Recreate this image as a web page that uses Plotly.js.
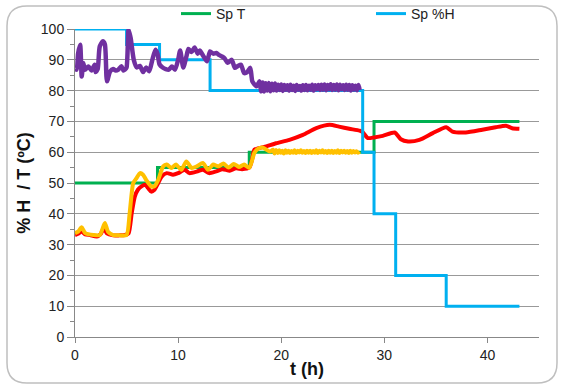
<!DOCTYPE html>
<html>
<head>
<meta charset="utf-8">
<script src="https://cdn.plot.ly/plotly-3.0.1.min.js"></script>
<style>html,body{margin:0;padding:0;background:#fff;}#chart{width:561px;height:385px;}</style>
</head>
<body>
<div id="chart"></div>
<script>
// Setpoints (step lines)
const spT_t = [0, 8.0, 16.9, 29.0, 43.1];
const spT_v = [50, 55, 60, 70, 70];
const spH_t = [0, 5.0, 8.2, 13.1, 27.9, 29.0, 31.1, 36.0, 43.1];
const spH_v = [100, 95, 90, 80, 60, 40, 20, 10, 10];

// Measured humidity (purple)
const hum_t = [0,0.16,0.3,0.5,0.65,0.8,0.97,1.3,1.6,1.9,2.0,2.2,2.4,2.7,2.9,3.1,3.4,3.7,3.95,4.2,4.5,4.7,4.84,5.0,5.2,5.4,5.7,6.0,6.3,6.6,6.9,7.2,7.5,7.8,8.0,8.2,8.5,8.8,9.1,9.4,9.7,10.0,10.2,10.5,10.8,11.0,11.3,11.6,11.9,12.1,12.4,12.8,13.1,13.4,13.7,14.0,14.3,14.5,14.8,15.2,15.5,15.8,16.1,16.4,16.7,17.0,17.2,17.6,
  17.9,18.05,18.2,18.35,18.5,18.65,18.8,18.95,19.1,19.25,19.4,19.55,19.7,19.85,20.0,20.15,20.3,20.45,20.6,20.75,20.9,21.05,21.2,21.35,21.5,21.65,21.8,21.95,22.1,22.25,22.4,22.55,22.7,22.85,23.0,23.15,23.3,23.45,23.6,23.75,23.9,24.05,24.2,24.35,24.5,24.65,24.8,24.95,25.1,25.25,25.4,25.55,25.7,25.85,26.0,26.15,26.3,26.45,26.6,26.75,26.9,27.05,27.2,27.35,27.5,27.6];
const hum_v = [87,86.8,92,94.9,84.6,89,86.8,87.8,86.5,88.4,86,87,94.3,96,95,83,86.2,87,86.5,86.8,87.9,86.5,86.8,87.5,99.8,97,90,87.5,88,86,87.5,86.3,90,93.3,92,88.5,87.5,87,86.8,87.8,86.8,90,93,87.5,91,93.5,92.5,94,92,93,91.5,89.5,92.7,92,92.2,91.5,91,90.5,89,90,87.4,88,88.4,85.7,86,87.4,83,81.4,
  83,79.8,82.6,79.7,82.4,80,82.5,79.8,82.2,80.1,82.3,80,81.9,80.2,82,79.9,81.8,80.3,81.7,80,81.9,80.2,81.6,79.9,81.8,80.3,81.5,80,81.7,80.2,81.8,80.1,81.6,80.3,81.9,80,81.7,80.4,81.8,80.2,81.9,80.3,82,80.1,81.8,80.4,82.1,80.2,81.8,80.3,82,80.1,81.9,80.4,81.7,80.2,81.9,80.3,81.8,80,81.7,80.3,81.6,80.1,81.8,80.2,81.5,80.6];

// Measured temperature 1 (red)
const tA_t = [0,0.3,0.65,1.0,1.45,2.1,2.5,2.8,3.1,3.7,4.3,4.84,5.2,5.5,5.8,6.1,6.45,6.8,7.1,7.4,7.7,8.07,8.4,8.9,9.5,10.0,10.65,11.1,11.9,12.4,13.0,13.7,14.3,15.0,15.6,16.2,16.9,17.2,17.4,18.55,19.5,20.8,22.1,23.4,24.7,25.6,26.6,27.6,27.9,28.4,29.0,29.85,31.0,31.6,32.3,33.4,34.7,36.0,36.6,37.9,39.5,40.8,41.8,42.4,43.1];
const tA_v = [33.1,33.5,34.3,33.3,33.1,32.6,33.5,35.3,33.6,33,33,33.1,33.7,40.2,45.6,47.8,48.9,49.4,48.3,47.2,47.8,50,52.1,53.2,52.7,53.2,54.3,53.2,53.8,54.3,53.2,53.8,54.5,54,54.8,54.5,55,58,60.8,61.9,62.9,64,65.6,67.8,68.9,68.3,67.6,67,66.5,64.6,64.8,65.3,66.4,64.2,63.5,64,66.2,68.1,66.7,66.4,67.3,68.1,68.6,67.8,67.6];

// Measured temperature 2 (orange)
const tB_t = [0,0.3,0.65,1.0,1.8,2.4,2.9,3.2,3.7,4.3,5.0,5.3,5.65,5.97,6.3,6.6,6.9,7.4,7.7,8.07,8.55,8.9,9.35,9.8,10.3,10.8,11.3,11.8,12.4,12.9,13.4,13.9,14.4,14.9,15.4,15.9,16.4,16.9,17.4,17.7,18.2,18.9,19.2,
  19.35,19.5,19.65,19.8,19.95,20.1,20.25,20.4,20.55,20.7,20.85,21.0,21.15,21.3,21.45,21.6,21.75,21.9,22.05,22.2,22.35,22.5,22.65,22.8,22.95,23.1,23.25,23.4,23.55,23.7,23.85,24.0,24.15,24.3,24.45,24.6,24.75,24.9,25.05,25.2,25.35,25.5,25.65,25.8,25.95,26.1,26.25,26.4,26.55,26.7,26.85,27.0,27.15,27.3,27.45,27.6];
const tB_v = [33.7,34.2,35.6,33.7,33.1,33.1,37,34.2,33.1,33,33.1,40.2,50,51.6,53.2,52.7,51,48.9,48.9,51,55.4,56,54.9,56,54.3,57,54.9,55.4,56.5,54.3,56,55.4,56.3,55,56.2,55.2,56,54.9,59.8,61,61.5,60.2,60.8,
  59.6,60.7,59.7,60.6,59.8,60.5,59.6,60.6,59.8,60.5,59.7,60.4,59.8,60.6,59.7,60.5,59.9,60.6,59.8,60.4,59.7,60.5,59.8,60.5,59.7,60.4,59.8,60.6,59.7,60.5,59.9,60.6,59.8,60.4,59.7,60.5,59.8,60.5,59.7,60.4,59.8,60.6,59.7,60.5,59.9,60.5,59.8,60.4,59.7,60.5,59.8,60.4,59.9,60.3,59.8,60.2];

const xTicks = [0, 10, 20, 30, 40];
const yTicks = [0, 10, 20, 30, 40, 50, 60, 70, 80, 90, 100];

const FONT = 'Liberation Sans, Arial, sans-serif';

const traces = [
  {x: spT_t, y: spT_v, name: 'Sp T', mode: 'lines', line: {color: '#00B050', width: 3, shape: 'hv'}},
  {x: tA_t, y: tA_v, name: 'T1', mode: 'lines', showlegend: false, line: {color: '#FF0000', width: 4, shape: 'spline', smoothing: 0.6}},
  {x: spH_t, y: spH_v, name: 'Sp %H', mode: 'lines', line: {color: '#00B0F0', width: 3, shape: 'hv'}},
  {x: tB_t, y: tB_v, name: 'T2', mode: 'lines', showlegend: false, line: {color: '#FFC000', width: 4, shape: 'spline', smoothing: 0.6}},
  {x: hum_t, y: hum_v, name: '%H', mode: 'lines', showlegend: false, line: {color: '#7030A0', width: 4.5, shape: 'spline', smoothing: 0.6}}
];

// rounded border in paper coordinates
const L = 75, R = 539, T = 29, B = 337;
function px(x){ return (x - L) / (R - L); }
function py(y){ return (B - y) / (B - T); }
const bx0 = 7, bx1 = 557, by0 = 6, by1 = 383, rr = 20;
const border = 'M ' + px(bx0 + rr) + ',' + py(by0) +
  ' L ' + px(bx1 - rr) + ',' + py(by0) +
  ' Q ' + px(bx1) + ',' + py(by0) + ' ' + px(bx1) + ',' + py(by0 + rr) +
  ' L ' + px(bx1) + ',' + py(by1 - rr) +
  ' Q ' + px(bx1) + ',' + py(by1) + ' ' + px(bx1 - rr) + ',' + py(by1) +
  ' L ' + px(bx0 + rr) + ',' + py(by1) +
  ' Q ' + px(bx0) + ',' + py(by1) + ' ' + px(bx0) + ',' + py(by1 - rr) +
  ' L ' + px(bx0) + ',' + py(by0 + rr) +
  ' Q ' + px(bx0) + ',' + py(by0) + ' ' + px(bx0 + rr) + ',' + py(by0) + ' Z';

const layout = {
  width: 561, height: 385,
  margin: {l: 75, r: 22, t: 29, b: 48, autoexpand: false},
  paper_bgcolor: '#FFFFFF', plot_bgcolor: '#FFFFFF',
  font: {family: FONT, size: 14, color: '#222222'},
  showlegend: true,
  legend: {orientation: 'h', x: px(176), xanchor: 'left', y: py(14), yanchor: 'middle',
           font: {family: FONT, size: 14, color: '#222222'}, entrywidth: 150, bgcolor: 'rgba(0,0,0,0)'},
  xaxis: {
    range: [0, 45], tickvals: xTicks, ticktext: xTicks.map(String),
    showgrid: false, zeroline: false, showline: true, linecolor: '#888888', linewidth: 1,
    ticks: 'outside', ticklen: 5, tickcolor: '#888888',
    tickfont: {family: FONT, size: 14, color: '#222222'},
    title: {text: 't (h)', font: {family: FONT, size: 18, color: '#111111', weight: 'bold'}, standoff: 0}
  },
  yaxis: {
    range: [0, 100], tickvals: yTicks, ticktext: yTicks.map(String),
    showgrid: true, gridcolor: '#999999', gridwidth: 1, zeroline: false,
    showline: true, linecolor: '#888888', linewidth: 1,
    ticks: 'outside', ticklen: 7, tickcolor: '#888888',
    minor: {dtick: 5, ticklen: 4, tickcolor: '#888888', showgrid: false, ticks: 'outside'},
    tickfont: {family: FONT, size: 14, color: '#222222'},
    title: {text: '% H\u00A0 / T (ºC)', font: {family: FONT, size: 18, color: '#111111', weight: 'bold'}, standoff: 5}
  },
  shapes: [{type: 'path', xref: 'paper', yref: 'paper', path: border, line: {color: '#BFBFBF', width: 1.5}, layer: 'below'}]
};

Plotly.newPlot('chart', traces, layout, {displayModeBar: false, staticPlot: true});
</script>
</body>
</html>
